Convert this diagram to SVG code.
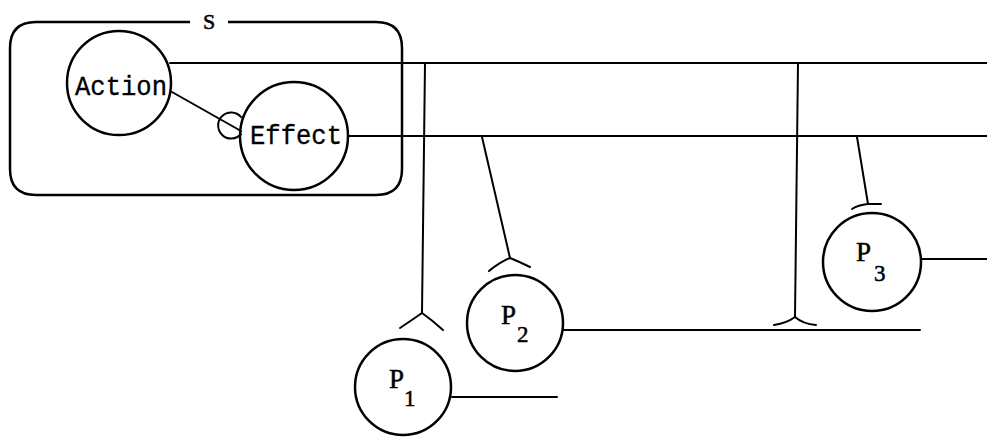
<svg xmlns="http://www.w3.org/2000/svg" width="987" height="438" viewBox="0 0 987 438">
<style>
.n{fill:none;stroke:#000;stroke-width:2.5}
.c{fill:none;stroke:#000;stroke-width:2;stroke-linecap:round}
.t{font-family:"Liberation Mono","Courier New",monospace;fill:#000;stroke:#000;stroke-width:0.35}
.s{font-family:"Liberation Serif","Times New Roman",serif;fill:#000;stroke:#000;stroke-width:0.5}
.lab{font-size:27px}
.p{font-size:27px}
.sub{font-size:23px}
</style>
<rect width="987" height="438" fill="#fff"/>
<g id="S">
<path class="n" d="M190,22 H36 Q10,22 10,48 V169 Q10,195 36,195 H376 Q402,195 402,169 V48 Q402,22 376,22 H228"/>
<text class="s" x="209" y="29" font-size="22" text-anchor="middle">S</text>
</g>
<g id="Action">
<circle class="n" cx="119" cy="83" r="52"/>
<text class="t lab" x="121" y="95" text-anchor="middle" textLength="92" lengthAdjust="spacingAndGlyphs">Action</text>
</g>
<g id="Effect">
<circle class="n" cx="294" cy="136" r="54"/>
<text class="t lab" x="296" y="144" text-anchor="middle" textLength="92" lengthAdjust="spacingAndGlyphs">Effect</text>
</g>
<g id="P1">
<circle class="n" cx="403" cy="387" r="48"/>
<text class="s p" x="389" y="388">P</text>
<text class="s sub" x="404" y="406">1</text>
</g>
<g id="P2">
<circle class="n" cx="515" cy="323" r="48"/>
<text class="s p" x="501" y="324">P</text>
<text class="s sub" x="517" y="342">2</text>
</g>
<g id="P3">
<circle class="n" cx="872" cy="262" r="49"/>
<text class="s p" x="856" y="261">P</text>
<text class="s sub" x="874" y="281">3</text>
</g>
<g id="connectors">
<path class="c" d="M172,92 L241,131"/>
<path class="c" d="M241,117 A13,13 0 1 0 241,134"/>
<path class="c" d="M170,63 H987"/>
<path class="c" d="M348,136 H987"/>
<path class="c" d="M425,63 L422,313"/>
<path class="c" d="M400,328 Q412,320 422,313 Q432,320 443,330"/>
<path class="c" d="M452,397 H557"/>
<path class="c" d="M482,137 L510,258"/>
<path class="c" d="M489,271 Q500,262 510,258 Q520,262 530,267"/>
<path class="c" d="M563,330 H920"/>
<path class="c" d="M798,63 L795,317"/>
<path class="c" d="M774,325 Q787,323 795,317 Q803,324 816,325"/>
<path class="c" d="M857,137 L868,204"/>
<path class="c" d="M852,209 Q858,205 868,204 H881"/>
<path class="c" d="M921,259 H987"/>
</g>
</svg>
